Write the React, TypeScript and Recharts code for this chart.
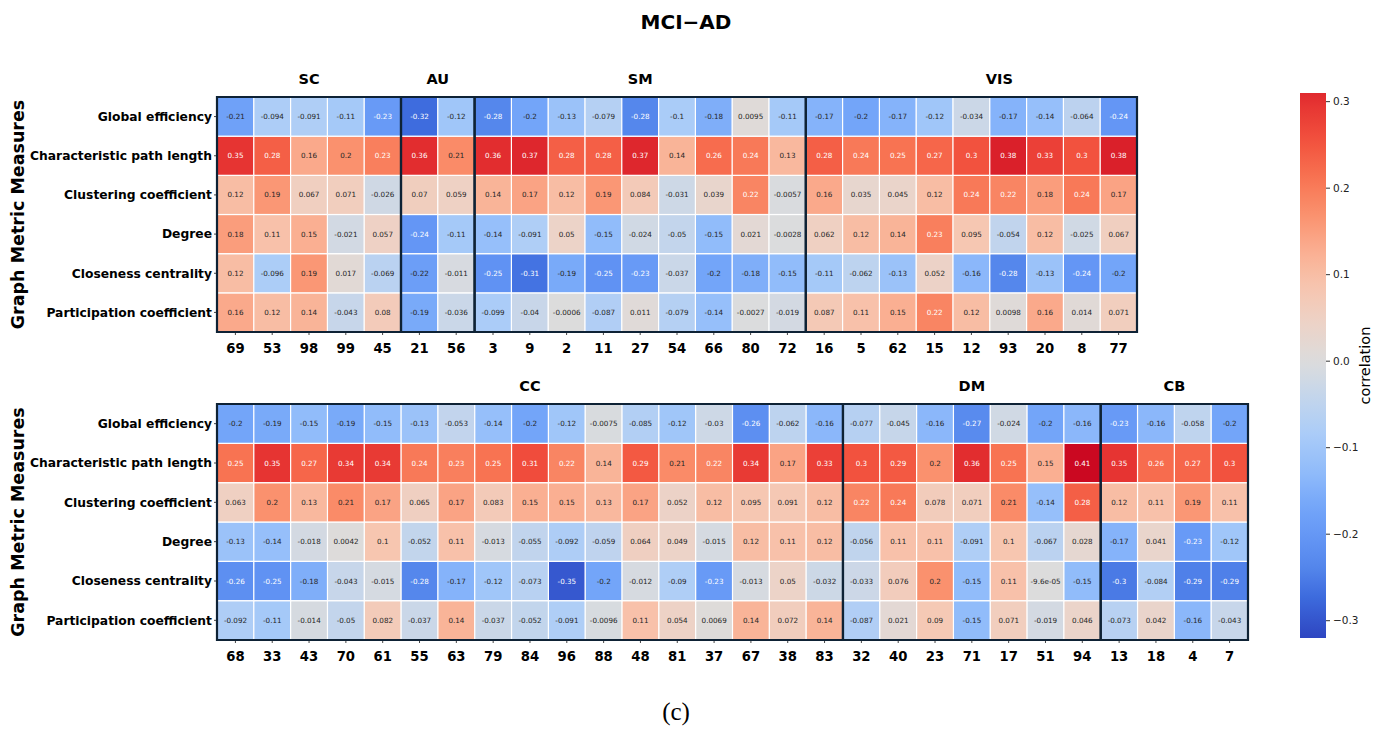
import React from 'react';
import { BarChart, Bar, XAxis, YAxis, ReferenceArea } from 'recharts';

const metrics = [
  'Global efficiency',
  'Characteristic path length',
  'Clustering coefficient',
  'Degree',
  'Closeness centrality',
  'Participation coefficient',
];

// ---------- top panel ----------
const topRegions = ['69','53','98','99','45','21','56','3','9','2','11','27','54','66','80','72','16','5','62','15','12','93','20','8','77'];
const topGlobalEfficiency = [-0.21,-0.094,-0.091,-0.11,-0.23,-0.32,-0.12,-0.28,-0.2,-0.13,-0.079,-0.28,-0.1,-0.18,0.0095,-0.11,-0.17,-0.2,-0.17,-0.12,-0.034,-0.17,-0.14,-0.064,-0.24];
const topCharPathLength = [0.35,0.28,0.16,0.2,0.23,0.36,0.21,0.36,0.37,0.28,0.28,0.37,0.14,0.26,0.24,0.13,0.28,0.24,0.25,0.27,0.3,0.38,0.33,0.3,0.38];
const topClustering = [0.12,0.19,0.067,0.071,-0.026,0.07,0.059,0.14,0.17,0.12,0.19,0.084,-0.031,0.039,0.22,-0.0057,0.16,0.035,0.045,0.12,0.24,0.22,0.18,0.24,0.17];
const topDegree = [0.18,0.11,0.15,-0.021,0.057,-0.24,-0.11,-0.14,-0.091,0.05,-0.15,-0.024,-0.05,-0.15,0.021,-0.0028,0.062,0.12,0.14,0.23,0.095,-0.054,0.12,-0.025,0.067];
const topCloseness = [0.12,-0.096,0.19,0.017,-0.069,-0.22,-0.011,-0.25,-0.31,-0.19,-0.25,-0.23,-0.037,-0.2,-0.18,-0.15,-0.11,-0.062,-0.13,0.052,-0.16,-0.28,-0.13,-0.24,-0.2];
const topParticipation = [0.16,0.12,0.14,-0.043,0.08,-0.19,-0.036,-0.099,-0.04,-0.0006,-0.087,0.011,-0.079,-0.14,-0.0027,-0.019,0.087,0.11,0.15,0.22,0.12,0.0098,0.16,0.014,0.071];
const topGroups = [
  { name: 'SC', first: '69', last: '45' },
  { name: 'AU', first: '21', last: '56' },
  { name: 'SM', first: '3', last: '72' },
  { name: 'VIS', first: '16', last: '77' },
];

// ---------- bottom panel ----------
const bottomRegions = ['68','33','43','70','61','55','63','79','84','96','88','48','81','37','67','38','83','32','40','23','71','17','51','94','13','18','4','7'];
const bottomGlobalEfficiency = [-0.2,-0.19,-0.15,-0.19,-0.15,-0.13,-0.053,-0.14,-0.2,-0.12,-0.0075,-0.085,-0.12,-0.03,-0.26,-0.062,-0.16,-0.077,-0.045,-0.16,-0.27,-0.024,-0.2,-0.16,-0.23,-0.16,-0.058,-0.2];
const bottomCharPathLength = [0.25,0.35,0.27,0.34,0.34,0.24,0.23,0.25,0.31,0.22,0.14,0.29,0.21,0.22,0.34,0.17,0.33,0.3,0.29,0.2,0.36,0.25,0.15,0.41,0.35,0.26,0.27,0.3];
const bottomClustering = [0.063,0.2,0.13,0.21,0.17,0.065,0.17,0.083,0.15,0.15,0.13,0.17,0.052,0.12,0.095,0.091,0.12,0.22,0.24,0.078,0.071,0.21,-0.14,0.28,0.12,0.11,0.19,0.11];
const bottomDegree = [-0.13,-0.14,-0.018,0.0042,0.1,-0.052,0.11,-0.013,-0.055,-0.092,-0.059,0.064,0.049,-0.015,0.12,0.11,0.12,-0.056,0.11,0.11,-0.091,0.1,-0.067,0.028,-0.17,0.041,-0.23,-0.12];
const bottomCloseness = [-0.26,-0.25,-0.18,-0.043,-0.015,-0.28,-0.17,-0.12,-0.073,-0.35,-0.2,-0.012,-0.09,-0.23,-0.013,0.05,-0.032,-0.033,0.076,0.2,-0.15,0.11,-0.000096,-0.15,-0.3,-0.084,-0.29,-0.29];
const bottomParticipation = [-0.092,-0.11,-0.014,-0.05,0.082,-0.037,0.14,-0.037,-0.052,-0.091,-0.0096,0.11,0.054,0.0069,0.14,0.072,0.14,-0.087,0.021,0.09,-0.15,0.071,-0.019,0.046,-0.073,0.042,-0.16,-0.043];
const bottomGroups = [
  { name: 'CC', first: '68', last: '83' },
  { name: 'DM', first: '32', last: '94' },
  { name: 'CB', first: '13', last: '7' },
];

// ---------- colour bar ----------
const colorbarRange = [-0.32, 0.31];
const colorbarTicks = [-0.3, -0.2, -0.1, 0, 0.1, 0.2, 0.3];

// ---------- styling ----------
const FONT = '"DejaVu Sans", Verdana, sans-serif';
const BORDER = '#0e2235';
const groupLabelShift: Record<string, number> = { VIS: 28 };
const colorbarContrast = 1.18;

const colorStops: number[][] = [
  [-0.38, 45, 68, 192],
  [-0.32, 62, 108, 222],
  [-0.28, 85, 135, 236],
  [-0.24, 100, 150, 245],
  [-0.2, 115, 165, 249],
  [-0.15, 145, 188, 250],
  [-0.1, 170, 204, 248],
  [-0.05, 195, 213, 236],
  [0, 220, 220, 220],
  [0.05, 236, 211, 200],
  [0.1, 247, 198, 176],
  [0.15, 250, 175, 146],
  [0.2, 250, 145, 110],
  [0.25, 248, 115, 82],
  [0.3, 242, 82, 62],
  [0.35, 230, 52, 50],
  [0.38, 218, 32, 42],
  [0.42, 198, 0, 30],
];

function colorFor(v: number): string {
  const s = colorStops;
  if (v <= s[0][0]) return `rgb(${s[0][1]},${s[0][2]},${s[0][3]})`;
  for (let i = 1; i < s.length; i++) {
    if (v <= s[i][0]) {
      const t = (v - s[i - 1][0]) / (s[i][0] - s[i - 1][0]);
      const c = [1, 2, 3].map((k) => Math.round(s[i - 1][k] + t * (s[i][k] - s[i - 1][k])));
      return `rgb(${c[0]},${c[1]},${c[2]})`;
    }
  }
  const l = s[s.length - 1];
  return `rgb(${l[1]},${l[2]},${l[3]})`;
}

function textColor(v: number): string {
  return v >= 0.215 || v <= -0.225 ? '#ffffff' : '#262626';
}

function fmt2g(v: number): string {
  if (v === 0) return '0';
  const e = Math.floor(Math.log10(Math.abs(v)));
  if (e < -4 || e >= 2) {
    const [m, ex] = v.toExponential(1).split('e');
    const mant = m.replace(/\.?0+$/, '');
    const sign = ex[0] === '-' ? '-' : '+';
    const digits = ex.replace(/^[+-]/, '').padStart(2, '0');
    return `${mant}e${sign}${digits}`;
  }
  let s = v.toPrecision(2);
  if (s.includes('.')) s = s.replace(/0+$/, '').replace(/\.$/, '');
  return s;
}

function buildData(regions: string[], rows: number[][]) {
  return regions.map((region, i) => {
    const d: Record<string, any> = { region };
    rows.forEach((row, r) => {
      d['m' + r] = row[i];
      d['h' + r] = 1;
    });
    return d;
  });
}

const makeShape = (key: string) => (props: any) => {
  const { x, y, width, height, payload } = props;
  const v = payload[key];
  return (
    <g>
      <rect x={x} y={y} width={width} height={height} fill={colorFor(v)} stroke="#ffffff" strokeWidth={1.2} />
      <text
        x={x + width / 2}
        y={y + height / 2}
        textAnchor="middle"
        dominantBaseline="central"
        fontSize={7.2}
        fontFamily={FONT}
        fill={textColor(v)}
      >
        {fmt2g(v)}
      </text>
    </g>
  );
};

const yAxisTitle = (props: any) => {
  const vb = props.viewBox || {};
  const cx = 18;
  const cy = (vb.y || 0) + (vb.height || 0) / 2;
  return (
    <text
      x={cx}
      y={cy}
      transform={`rotate(-90 ${cx} ${cy})`}
      textAnchor="middle"
      dominantBaseline="central"
      fontSize={17.5}
      fontWeight="bold"
      fontFamily={FONT}
      fill="#000"
    >
      Graph Metric Measures
    </text>
  );
};

const groupLabel = (name: string) => (props: any) => {
  const vb = props.viewBox || {};
  const shift = groupLabelShift[name] || 0;
  return (
    <text
      x={vb.x + vb.width / 2 + shift}
      y={vb.y - 13}
      textAnchor="middle"
      fontSize={14.5}
      fontWeight="bold"
      fontFamily={FONT}
      fill="#000"
    >
      {name}
    </text>
  );
};

const yTicks = [0.5, 1.5, 2.5, 3.5, 4.5, 5.5];

function Heatmap(props: {
  regions: string[];
  rows: number[][];
  groups: { name: string; first: string; last: string }[];
  width: number;
  height: number;
  margin: any;
  xAxisHeight: number;
}) {
  const data = buildData(props.regions, props.rows);
  return (
    <BarChart
      width={props.width}
      height={props.height}
      data={data}
      margin={props.margin}
      barCategoryGap={0}
      barGap={0}
    >
      <XAxis
        dataKey="region"
        type="category"
        interval={0}
        height={props.xAxisHeight}
        axisLine={false}
        tickSize={3}
        tickMargin={9}
        tickLine={{ stroke: '#444' }}
        tick={{ fontSize: 13.2, fontWeight: 'bold', fill: '#000', fontFamily: FONT }}
      />
      <YAxis
        type="number"
        domain={[0, 6]}
        ticks={yTicks}
        interval={0}
        width={217}
        axisLine={false}
        tickSize={3}
        tickMargin={2}
        tickLine={{ stroke: '#444' }}
        tick={{ fontSize: 12.3, fontWeight: 'bold', fill: '#000', fontFamily: FONT }}
        tickFormatter={(v: number) => metrics[5 - Math.floor(v)]}
        label={yAxisTitle}
      />
      {[5, 4, 3, 2, 1, 0].map((r) => (
        <Bar
          key={r}
          dataKey={'h' + r}
          stackId="cells"
          shape={makeShape('m' + r)}
          isAnimationActive={false}
        />
      ))}
      {props.groups.map((g) => (
        <ReferenceArea
          key={g.name}
          x1={g.first}
          x2={g.last}
          y1={0}
          y2={6}
          fill="none"
          fillOpacity={0}
          stroke={BORDER}
          strokeWidth={2.2}
          strokeOpacity={1}
          ifOverflow="visible"
          zIndex={1500}
          label={groupLabel(g.name)}
        />
      ))}
    </BarChart>
  );
}

const colorbarData = [{ name: 'cb', range: colorbarRange }];

const colorbarTitle = (props: any) => {
  const vb = props.viewBox || {};
  const cx = 75;
  const cy = (vb.y || 0) + (vb.height || 0) / 2;
  return (
    <text
      x={cx}
      y={cy}
      transform={`rotate(-90 ${cx} ${cy})`}
      textAnchor="middle"
      dominantBaseline="central"
      fontSize={14.5}
      fontFamily={FONT}
      fill="#000"
    >
      correlation
    </text>
  );
};

function Colorbar() {
  const n = 40;
  const stops = Array.from({ length: n + 1 }, (_, i) => {
    const v = colorbarRange[0] + (i / n) * (colorbarRange[1] - colorbarRange[0]);
    return { offset: i / n, color: colorFor(v * colorbarContrast) };
  });
  return (
    <BarChart
      width={94}
      height={580}
      data={colorbarData}
      margin={{ top: 13, right: 0, bottom: 22, left: 10 }}
      barCategoryGap={0}
    >
      <defs>
        <linearGradient id="cbGrad" x1="0" y1="1" x2="0" y2="0">
          {stops.map((s, i) => (
            <stop key={i} offset={s.offset} stopColor={s.color} />
          ))}
        </linearGradient>
      </defs>
      <XAxis dataKey="name" hide />
      <YAxis
        orientation="right"
        type="number"
        domain={colorbarRange}
        allowDataOverflow
        ticks={colorbarTicks}
        interval={0}
        width={58}
        axisLine={false}
        tickSize={4}
        tickMargin={3}
        tickLine={{ stroke: '#333' }}
        tick={{ fontSize: 10.5, fill: '#222', fontFamily: FONT }}
        tickFormatter={(v: number) => v.toFixed(1).replace('-', '\u2212')}
        label={colorbarTitle}
      />
      <Bar dataKey="range" fill="url(#cbGrad)" isAnimationActive={false} />
    </BarChart>
  );
}

export default function App() {
  const topRows = [topGlobalEfficiency, topCharPathLength, topClustering, topDegree, topCloseness, topParticipation];
  const bottomRows = [bottomGlobalEfficiency, bottomCharPathLength, bottomClustering, bottomDegree, bottomCloseness, bottomParticipation];
  return (
    <div style={{ position: 'absolute', left: 0, top: 0, width: 1384, height: 729, background: '#fff', overflow: 'hidden' }}>
      <div
        style={{
          position: 'absolute',
          top: 10,
          left: 0,
          width: 1372,
          textAlign: 'center',
          fontFamily: FONT,
          fontWeight: 'bold',
          fontSize: 20,
          lineHeight: '24px',
          color: '#000',
        }}
      >
        MCI{'\u2212'}AD
      </div>
      <div style={{ position: 'absolute', left: 0, top: 0 }}>
        <Heatmap
          regions={topRegions}
          rows={topRows}
          groups={topGroups}
          width={1160}
          height={370}
          margin={{ top: 97, right: 23, bottom: 0, left: 0 }}
          xAxisHeight={38}
        />
      </div>
      <div style={{ position: 'absolute', left: 0, top: 370 }}>
        <Heatmap
          regions={bottomRegions}
          rows={bottomRows}
          groups={bottomGroups}
          width={1260}
          height={310}
          margin={{ top: 34, right: 12, bottom: 0, left: 0 }}
          xAxisHeight={40}
        />
      </div>
      <div style={{ position: 'absolute', left: 1290, top: 80 }}>
        <Colorbar />
      </div>
      <div
        style={{
          position: 'absolute',
          top: 697,
          left: 0,
          width: 1352,
          textAlign: 'center',
          fontFamily: '"Liberation Serif", "Times New Roman", serif',
          fontSize: 25,
          lineHeight: '30px',
          color: '#000',
        }}
      >
        (c)
      </div>
    </div>
  );
}
